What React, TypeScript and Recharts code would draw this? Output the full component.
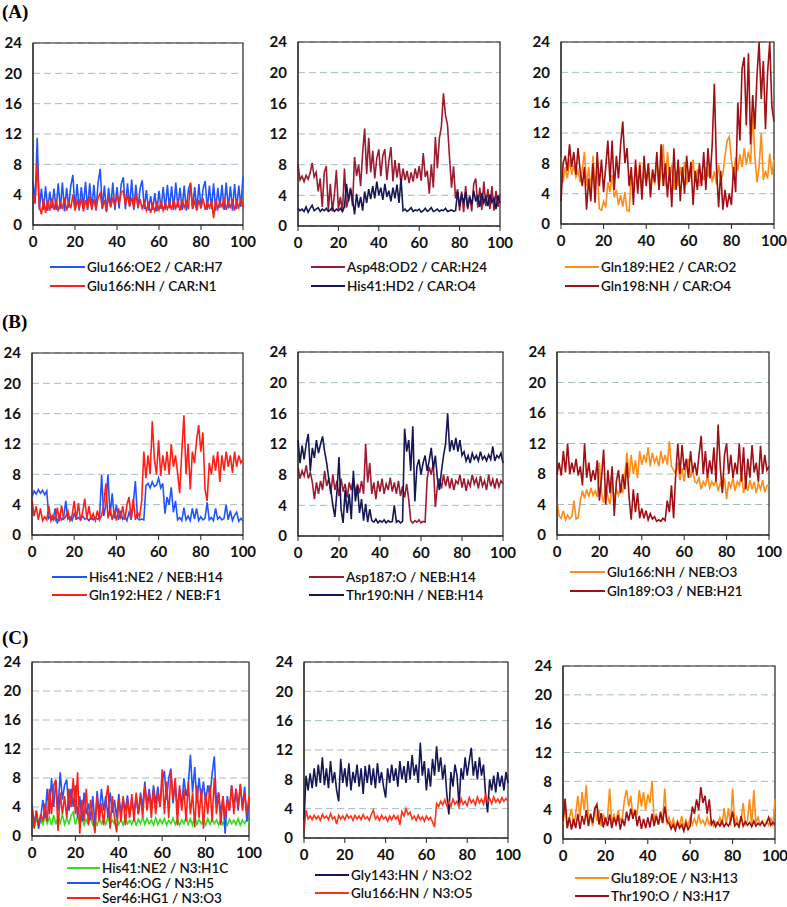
import { LineChart, Line, XAxis, YAxis, CartesianGrid, ReferenceArea } from 'recharts';

// simulation time (ns), one sample per ns
const timeNs = Array.from({ length: 101 }, (_, i) => i);

// (A) CAR
const glu166Oe2Car = [5.8, 3.0, 11.5, 2.0, 4.8, 2.0, 5.1, 1.9, 4.4, 2.2, 4.8, 2.0, 5.5, 2.1, 5.6, 1.8, 4.9, 2.3, 5.2, 6.6, 2.0, 5.4, 1.9, 5.0, 2.4, 5.7, 2.0, 5.5, 2.2, 5.3, 1.9, 5.6, 7.4, 2.1, 5.2, 1.7, 4.9, 2.3, 5.6, 2.0, 5.0, 2.2, 5.4, 6.3, 2.1, 5.5, 2.4, 6.0, 2.0, 5.3, 2.2, 4.8, 5.9, 2.1, 4.6, 1.9, 3.8, 2.0, 4.2, 1.8, 4.5, 2.1, 5.0, 2.0, 5.3, 2.2, 5.1, 2.0, 5.6, 2.3, 4.9, 2.0, 5.2, 1.9, 4.7, 5.5, 2.1, 5.0, 2.0, 5.4, 2.2, 4.8, 5.8, 2.0, 5.2, 2.1, 5.5, 1.9, 4.9, 2.3, 5.3, 2.0, 5.6, 2.2, 5.1, 1.9, 5.4, 2.1, 5.2, 2.4, 6.4];
const glu166NhCar = [4.2, 2.8, 8.2, 2.5, 1.4, 3.4, 1.6, 3.2, 1.9, 3.5, 2.0, 3.3, 1.8, 3.1, 2.1, 3.6, 1.9, 3.0, 2.2, 4.0, 1.9, 3.2, 2.3, 3.5, 1.8, 3.3, 2.2, 3.8, 2.0, 3.4, 2.1, 3.6, 4.2, 2.2, 3.3, 1.9, 3.7, 2.4, 3.5, 2.6, 4.0, 2.8, 4.3, 4.5, 2.7, 3.9, 2.5, 3.6, 2.3, 4.1, 2.4, 3.4, 2.2, 3.0, 1.9, 2.8, 1.6, 2.7, 1.8, 2.9, 2.0, 3.2, 1.9, 2.8, 2.1, 3.0, 2.0, 3.3, 2.2, 3.1, 1.9, 3.4, 2.3, 3.0, 2.1, 5.6, 2.2, 3.1, 1.9, 3.3, 2.2, 3.5, 2.0, 3.0, 2.3, 3.2, 0.9, 3.4, 2.1, 3.0, 2.4, 3.6, 2.0, 3.2, 2.2, 3.4, 1.9, 3.1, 2.3, 3.5, 2.4];
const asp48Od2Car = [8.0, 6.0, 6.5, 5.8, 6.6, 6.1, 6.9, 8.2, 6.4, 7.0, 4.5, 6.2, 2.5, 7.0, 7.8, 2.0, 5.5, 1.9, 4.0, 7.3, 2.2, 3.8, 1.8, 7.5, 2.4, 3.5, 5.0, 2.6, 9.0, 6.5, 8.0, 5.2, 9.5, 12.7, 6.8, 11.5, 7.0, 9.8, 6.2, 8.8, 10.0, 6.5, 9.2, 10.0, 6.0, 8.5, 10.3, 5.8, 8.6, 6.3, 8.2, 5.5, 7.5, 6.0, 7.2, 5.6, 7.0, 5.8, 7.5, 6.2, 7.8, 5.9, 9.5, 6.4, 7.2, 4.2, 8.0, 5.0, 11.6, 7.5, 11.5, 13.0, 17.3, 14.5, 13.2, 9.0, 5.0, 7.8, 3.6, 4.8, 2.0, 4.5, 1.8, 5.2, 2.2, 4.0, 1.9, 5.5, 6.2, 2.4, 5.0, 2.1, 5.8, 2.6, 4.8, 2.2, 5.2, 2.0, 4.6, 2.5, 4.2];
const his41Hd2Car = [2.3, 2.0, 2.2, 1.9, 2.5, 1.8, 2.3, 2.7, 2.0, 2.2, 2.4, 1.9, 2.2, 2.0, 2.3, 1.9, 2.1, 2.4, 1.9, 2.2, 2.0, 2.3, 1.9, 2.5, 5.5, 3.2, 4.8, 3.5, 1.5, 4.2, 2.4, 3.8, 2.0, 4.5, 3.0, 4.8, 3.5, 5.2, 3.6, 5.8, 4.0, 5.0, 3.4, 5.5, 3.8, 4.6, 3.2, 5.0, 3.6, 5.4, 3.0, 6.2, 2.0, 2.2, 1.9, 2.1, 2.4, 1.9, 2.1, 2.0, 2.2, 1.8, 2.0, 2.3, 1.9, 2.1, 2.4, 1.9, 2.0, 2.2, 1.9, 2.1, 2.0, 2.3, 1.9, 2.0, 2.1, 1.9, 2.0, 4.5, 2.6, 4.2, 3.0, 4.4, 2.4, 3.8, 2.8, 4.6, 3.2, 4.0, 2.5, 4.3, 3.0, 3.8, 2.6, 4.1, 3.1, 3.6, 2.2, 4.0, 3.0];
const gln189He2Car = [8.8, 5.5, 7.5, 6.0, 8.5, 6.5, 7.8, 6.2, 7.0, 5.5, 7.2, 9.5, 5.0, 7.5, 4.5, 9.0, 5.2, 7.0, 2.0, 1.8, 3.0, 2.2, 5.5, 4.2, 6.5, 3.5, 4.5, 2.5, 3.8, 2.3, 4.2, 1.8, 1.7, 6.5, 4.5, 7.5, 5.0, 8.2, 4.2, 6.8, 5.5, 8.0, 4.8, 7.0, 5.2, 8.5, 4.5, 7.2, 10.5, 5.0, 9.5, 6.0, 7.8, 4.5, 7.0, 5.0, 7.5, 5.5, 8.2, 5.2, 7.0, 6.0, 8.5, 5.5, 7.2, 5.0, 6.8, 5.8, 7.5, 6.2, 8.0, 5.5, 7.0, 5.2, 7.8, 5.8, 6.5, 9.0, 11.0, 11.5, 8.5, 6.5, 8.8, 7.0, 9.2, 7.5, 10.0, 7.8, 9.5, 8.0, 14.5, 9.0, 5.5, 7.5, 12.0, 5.8, 7.0, 6.0, 9.3, 6.5, 8.5];
const gln198NhCar = [3.0, 8.0, 9.0, 7.0, 10.5, 7.5, 9.5, 6.5, 10.0, 7.0, 5.0, 7.5, 1.9, 6.0, 3.0, 8.0, 2.8, 9.5, 5.0, 8.5, 4.2, 7.5, 11.0, 5.5, 11.0, 4.5, 9.0, 6.0, 10.5, 13.5, 8.0, 10.0, 5.0, 7.5, 2.5, 8.5, 4.0, 7.8, 3.2, 9.0, 5.0, 8.0, 3.5, 7.2, 5.5, 9.5, 4.5, 10.5, 5.0, 8.0, 3.5, 7.5, 2.2, 10.0, 4.5, 8.5, 3.0, 7.5, 4.0, 9.0, 5.5, 8.2, 2.5, 7.0, 4.5, 8.0, 5.0, 9.5, 4.5, 10.0, 6.0, 10.5, 18.5, 7.5, 2.2, 7.0, 1.9, 4.5, 2.2, 4.0, 2.5, 7.5, 4.2, 16.0, 11.0, 20.5, 22.0, 13.0, 22.5, 10.5, 17.0, 12.5, 19.5, 24.0, 16.5, 21.5, 12.5, 20.0, 24.0, 15.5, 13.5];

// (B) NEB
const his41Ne2Neb = [5.0, 5.8, 5.4, 6.0, 5.5, 5.9, 5.3, 5.8, 2.2, 2.5, 2.0, 3.5, 1.5, 2.6, 2.0, 2.3, 4.5, 2.1, 2.4, 1.9, 2.8, 2.1, 2.3, 2.0, 2.5, 2.1, 2.2, 1.9, 2.4, 2.0, 2.3, 2.1, 2.2, 7.9, 2.5, 4.0, 8.0, 2.5, 5.5, 2.2, 4.0, 2.0, 3.2, 2.1, 2.5, 1.9, 3.0, 2.0, 4.2, 7.1, 2.2, 2.0, 2.1, 2.0, 6.5, 6.8, 6.2, 7.0, 6.4, 6.6, 7.5, 6.2, 6.8, 2.8, 5.0, 4.0, 6.3, 3.0, 4.5, 2.0, 2.3, 1.9, 3.6, 2.0, 2.5, 1.9, 3.5, 2.1, 3.5, 1.9, 2.4, 2.0, 2.2, 4.3, 2.0, 2.3, 1.9, 3.5, 2.1, 2.4, 2.0, 2.2, 4.0, 2.0, 3.2, 1.9, 2.6, 3.0, 1.8, 2.2, 1.8];
const gln192He2Neb = [4.6, 2.5, 3.8, 2.0, 3.5, 1.9, 2.4, 2.0, 3.8, 1.9, 2.6, 2.0, 3.6, 1.8, 3.9, 2.1, 2.4, 3.2, 1.9, 2.6, 4.5, 2.0, 4.2, 1.9, 3.0, 4.8, 2.1, 3.8, 2.0, 2.8, 1.9, 3.2, 2.0, 2.6, 4.0, 6.8, 2.2, 3.5, 2.0, 3.2, 1.9, 3.5, 2.1, 3.8, 2.0, 4.0, 5.0, 2.2, 4.8, 2.0, 3.0, 2.4, 4.5, 11.0, 7.5, 10.5, 8.0, 15.0, 10.0, 8.0, 12.5, 7.8, 10.5, 8.5, 11.0, 8.0, 12.0, 9.0, 10.5, 8.2, 5.5, 11.0, 15.8, 8.0, 12.0, 6.0, 11.0, 9.5, 12.5, 14.5, 11.0, 13.5, 6.0, 4.5, 9.5, 8.0, 10.5, 8.5, 11.0, 7.0, 10.5, 8.5, 11.0, 9.0, 10.5, 8.2, 11.0, 9.0, 10.5, 9.5, 10.0];
const asp187ONeb = [9.0, 7.5, 8.5, 7.8, 9.2, 7.5, 8.3, 7.0, 4.8, 7.0, 5.5, 7.2, 6.0, 8.5, 6.5, 7.5, 5.5, 8.0, 6.0, 7.2, 5.2, 7.5, 5.8, 6.8, 5.0, 7.0, 6.0, 7.5, 5.5, 6.8, 5.6, 7.2, 5.5, 12.0, 7.0, 9.5, 5.5, 7.0, 4.8, 7.2, 5.8, 7.5, 5.5, 6.8, 6.0, 7.6, 5.8, 7.0, 5.5, 7.2, 5.2, 6.5, 5.0, 6.8, 4.8, 2.0, 1.7, 2.0, 1.8, 2.1, 1.7, 1.9, 1.8, 7.5, 9.0, 8.0, 9.5, 3.8, 6.5, 7.5, 6.2, 8.0, 6.5, 7.8, 6.2, 7.5, 6.0, 7.2, 6.8, 8.0, 6.3, 7.5, 5.9, 7.2, 6.5, 8.0, 6.8, 7.5, 6.2, 7.8, 6.5, 7.2, 6.0, 8.0, 6.5, 7.4, 6.2, 7.5, 6.4, 7.2, 6.8];
const thr190NhNeb = [12.5, 9.5, 11.8, 10.0, 12.0, 13.3, 8.5, 11.5, 10.2, 12.5, 10.8, 12.0, 13.0, 11.0, 9.5, 7.5, 6.0, 4.0, 2.5, 5.8, 10.3, 3.5, 1.7, 6.0, 3.0, 5.5, 2.2, 8.5, 4.5, 6.5, 3.0, 4.8, 2.0, 4.2, 1.8, 3.5, 2.0, 1.8, 2.2, 1.7, 2.0, 1.8, 2.1, 1.7, 2.0, 1.8, 1.9, 4.0, 1.8, 2.0, 1.7, 1.9, 14.0, 11.0, 12.5, 8.5, 14.3, 4.5, 9.0, 10.0, 8.0, 9.5, 10.5, 8.5, 9.8, 11.5, 8.8, 10.5, 7.5, 6.0, 8.5, 10.5, 12.0, 16.0, 11.0, 12.5, 11.2, 12.8, 11.0, 12.5, 10.5, 11.0, 9.8, 10.5, 9.5, 10.8, 10.0, 10.5, 9.8, 11.0, 10.0, 10.4, 9.8, 10.6, 10.0, 11.7, 9.8, 10.5, 10.2, 10.8, 9.5];
const glu166NhNeb = [4.5, 2.5, 2.2, 3.2, 2.0, 2.6, 2.1, 2.4, 4.5, 2.1, 2.3, 4.5, 5.8, 4.8, 6.0, 5.0, 6.2, 5.2, 5.8, 5.0, 9.5, 5.5, 4.2, 6.5, 5.0, 4.0, 7.0, 4.5, 6.0, 5.2, 6.5, 5.5, 8.0, 10.8, 7.5, 10.5, 8.0, 9.8, 7.5, 11.0, 9.2, 10.5, 9.5, 11.5, 9.0, 10.8, 9.5, 10.2, 9.0, 11.0, 9.4, 10.5, 9.2, 12.3, 9.0, 8.5, 8.0, 9.5, 7.2, 8.8, 7.0, 9.2, 10.0, 7.5, 8.5, 7.0, 6.8, 7.5, 6.0, 7.0, 6.5, 7.8, 6.2, 7.0, 6.5, 7.2, 5.8, 6.8, 6.0, 7.5, 4.7, 7.0, 6.2, 7.5, 5.8, 7.0, 6.5, 8.0, 5.5, 6.8, 5.8, 7.2, 6.0, 7.0, 5.5, 6.8, 6.0, 7.2, 5.6, 6.5, 6.5];
const gln189O3Neb = [8.0, 9.5, 7.8, 11.0, 8.2, 12.0, 8.0, 9.5, 8.2, 10.0, 7.8, 9.0, 6.5, 12.0, 7.5, 9.5, 7.0, 8.5, 7.2, 9.8, 4.5, 7.5, 11.2, 4.0, 8.5, 5.5, 9.0, 2.5, 7.0, 8.5, 5.5, 8.0, 6.0, 9.5, 5.0, 2.0, 6.0, 3.0, 5.5, 2.2, 3.5, 2.2, 3.2, 2.0, 2.8, 2.1, 2.4, 1.8, 2.0, 1.8, 2.2, 1.9, 4.5, 3.0, 6.5, 2.2, 8.0, 12.0, 8.0, 11.8, 8.5, 10.0, 7.5, 11.0, 8.2, 9.5, 7.8, 10.5, 13.0, 8.0, 11.0, 7.5, 9.8, 8.0, 11.5, 7.0, 14.5, 9.0, 5.5, 10.5, 12.0, 8.0, 10.5, 7.5, 9.5, 8.0, 12.0, 7.0, 11.5, 6.0, 10.0, 7.5, 11.8, 8.2, 9.5, 7.0, 11.7, 8.0, 10.5, 8.5, 9.0];

// (C) N3
const his41Ne2N3 = [3.0, 1.2, 2.5, 1.4, 2.2, 1.6, 2.8, 1.7, 2.6, 1.5, 2.9, 1.6, 2.7, 1.8, 3.0, 1.6, 2.5, 1.7, 2.8, 3.3, 1.6, 2.6, 1.7, 2.4, 1.5, 2.3, 1.7, 2.5, 1.6, 2.2, 1.5, 2.4, 1.7, 2.3, 1.6, 2.6, 1.5, 2.2, 1.7, 2.4, 1.6, 2.3, 1.5, 2.5, 1.7, 2.2, 1.6, 2.4, 1.5, 2.3, 1.7, 2.6, 1.6, 2.4, 1.7, 2.2, 1.5, 2.5, 1.6, 2.3, 1.7, 2.4, 1.5, 2.2, 1.7, 2.5, 1.6, 2.3, 1.5, 2.2, 1.7, 2.6, 1.6, 2.4, 1.5, 2.7, 1.6, 2.3, 1.7, 2.2, 1.5, 2.4, 1.6, 2.3, 1.7, 2.2, 1.5, 2.4, 1.6, 2.2, 1.5, 2.3, 1.7, 2.2, 1.6, 2.4, 1.5, 2.2, 1.7, 2.3, 1.8];
const ser46OgN3 = [4.5, 1.5, 3.5, 1.0, 2.5, 5.0, 2.5, 6.5, 3.0, 8.0, 4.0, 7.5, 3.5, 8.8, 5.0, 7.0, 7.8, 3.5, 6.5, 4.0, 7.0, 2.5, 5.5, 2.0, 6.0, 3.0, 4.5, 2.2, 5.5, 1.5, 6.2, 3.0, 6.5, 3.5, 5.5, 2.5, 6.0, 3.2, 5.0, 2.5, 5.8, 3.0, 5.2, 3.5, 5.6, 2.8, 5.0, 3.2, 5.5, 3.0, 6.0, 4.0, 7.5, 4.2, 6.5, 3.8, 7.0, 4.5, 6.8, 4.0, 7.5, 9.0, 5.0, 8.0, 9.3, 4.5, 7.5, 3.5, 6.5, 4.0, 8.0, 5.5, 7.0, 11.2, 6.0, 9.5, 4.5, 8.0, 5.0, 7.5, 4.5, 7.0, 5.5, 8.5, 11.0, 4.5, 6.0, 3.0, 5.5, 0.3, 5.5, 3.5, 7.0, 4.0, 6.5, 3.5, 7.0, 4.0, 6.8, 2.0, 4.5];
const ser46Hg1N3 = [4.0, 1.0, 3.5, 1.5, 3.0, 2.0, 4.5, 2.0, 6.5, 3.0, 7.0, 7.8, 0.7, 6.0, 3.0, 5.5, 2.5, 6.5, 4.0, 8.0, 3.0, 8.8, 0.3, 5.0, 2.0, 6.5, 1.5, 5.0, 2.5, 0.4, 5.5, 2.0, 4.5, 1.5, 5.0, 7.0, 1.0, 5.5, 2.5, 0.5, 5.0, 2.0, 5.5, 1.5, 5.0, 2.5, 5.8, 2.0, 6.0, 3.0, 5.5, 2.5, 7.0, 3.5, 6.0, 2.5, 6.5, 3.0, 6.0, 4.0, 9.2, 3.0, 7.5, 2.5, 9.0, 5.0, 8.0, 1.5, 7.0, 3.5, 6.5, 2.0, 7.5, 3.0, 6.0, 1.2, 7.0, 2.5, 6.5, 1.0, 6.0, 3.0, 7.0, 2.0, 8.0, 3.0, 6.0, 1.5, 5.5, 2.5, 5.0, 3.5, 7.0, 3.0, 6.5, 4.0, 7.2, 3.5, 6.0, 3.0, 5.5];
const gly143HnN3 = [2.5, 8.5, 6.5, 8.8, 6.8, 9.5, 7.0, 10.0, 7.5, 11.0, 7.2, 9.5, 6.8, 10.5, 7.5, 9.0, 6.5, 5.0, 10.8, 7.5, 9.5, 7.0, 10.2, 6.5, 9.0, 7.5, 10.0, 7.0, 9.5, 6.0, 9.8, 7.5, 10.0, 7.2, 9.5, 6.8, 10.2, 7.5, 9.0, 7.0, 5.5, 9.5, 7.5, 10.0, 7.8, 9.5, 7.0, 10.5, 8.0, 9.8, 7.5, 10.5, 8.0, 11.3, 8.5, 10.0, 7.5, 13.0, 8.5, 10.5, 6.5, 9.5, 7.0, 10.8, 8.5, 12.5, 9.0, 11.0, 8.0, 10.0, 6.0, 3.2, 9.0, 7.0, 10.0, 8.5, 4.5, 9.5, 8.0, 11.0, 8.5, 10.5, 12.3, 8.5, 10.5, 8.0, 11.0, 8.5, 10.0, 6.0, 3.5, 8.0, 6.5, 8.5, 6.2, 9.0, 7.0, 8.5, 6.5, 9.0, 7.5];
const glu166HnN3 = [1.0, 3.8, 2.6, 3.0, 2.5, 3.1, 2.6, 3.0, 2.4, 3.2, 2.7, 3.0, 2.5, 3.3, 2.6, 2.9, 1.9, 3.1, 2.6, 3.0, 2.5, 3.2, 2.7, 3.0, 2.4, 3.1, 2.6, 3.0, 2.5, 3.2, 2.6, 2.9, 2.4, 3.2, 3.8, 2.6, 3.0, 2.4, 3.1, 2.6, 2.9, 2.3, 3.0, 2.5, 3.1, 2.6, 3.0, 1.8, 3.6, 3.0, 4.0, 3.2, 3.5, 2.6, 3.0, 2.4, 3.1, 2.5, 2.9, 2.3, 3.0, 2.5, 2.8, 2.2, 1.5, 4.7, 4.3, 5.0, 4.5, 5.2, 4.4, 5.0, 4.3, 5.3, 4.6, 5.0, 4.2, 5.4, 4.6, 5.0, 4.4, 5.5, 4.8, 5.2, 4.5, 5.6, 4.8, 5.3, 4.6, 6.0, 4.9, 5.4, 4.7, 5.6, 4.9, 5.3, 4.8, 5.5, 5.0, 5.4, 5.0];
const glu189OeN3 = [2.0, 5.0, 1.5, 3.0, 4.2, 1.8, 3.5, 6.0, 3.0, 6.5, 4.0, 7.5, 2.2, 3.5, 1.8, 4.5, 2.5, 4.0, 1.8, 3.5, 2.2, 3.0, 7.0, 2.0, 3.5, 2.2, 4.0, 2.5, 3.0, 5.5, 6.8, 4.5, 6.0, 3.0, 4.0, 3.5, 6.8, 4.5, 6.5, 4.0, 6.2, 5.0, 8.0, 2.5, 3.5, 2.0, 3.2, 2.2, 7.0, 2.0, 3.0, 1.8, 2.8, 1.6, 2.5, 1.8, 3.2, 1.5, 2.6, 1.8, 3.0, 2.0, 2.8, 2.0, 3.4, 2.2, 2.6, 1.9, 3.0, 2.0, 2.6, 1.8, 2.4, 2.0, 3.0, 1.9, 4.3, 2.0, 4.3, 1.8, 7.0, 2.0, 3.0, 1.8, 2.6, 5.0, 2.0, 2.5, 5.5, 1.8, 6.8, 2.2, 3.0, 2.0, 2.5, 1.8, 2.4, 1.9, 3.0, 1.8, 5.5];
const thr190ON3 = [2.5, 5.6, 1.5, 3.0, 1.3, 2.8, 1.5, 3.5, 1.4, 3.2, 2.0, 4.0, 1.8, 3.5, 2.2, 4.2, 4.8, 2.0, 3.6, 1.6, 3.0, 1.8, 3.4, 1.5, 3.0, 2.0, 3.3, 1.3, 2.8, 1.8, 3.8, 2.5, 4.2, 2.8, 4.0, 1.8, 3.2, 1.4, 2.8, 1.5, 3.0, 1.6, 3.5, 1.8, 3.2, 2.0, 3.8, 2.2, 4.5, 2.5, 2.2, 1.4, 2.0, 1.2, 2.3, 1.5, 2.0, 1.1, 2.2, 1.3, 1.8, 4.5, 3.5, 5.5, 4.0, 7.2, 5.0, 6.0, 3.5, 5.5, 2.0, 2.5, 1.7, 2.3, 1.8, 2.5, 1.7, 2.2, 1.8, 2.4, 3.8, 1.8, 2.2, 1.7, 3.2, 1.8, 2.4, 1.9, 2.3, 1.7, 2.5, 1.8, 2.2, 1.9, 2.4, 1.8, 2.2, 3.0, 1.9, 2.3, 2.0];

const yTicks = [0, 4, 8, 12, 16, 20, 24];
const xTicks = [0, 20, 40, 60, 80, 100];

interface Series {
  values: number[];
  name: string;
  color: string;
}

interface PanelProps {
  plot: [number, number, number, number]; // left, top, right, bottom of plot area
  series: Series[];
  legend: { lineX: number; textX: number; ys: number[] };
}

const tickStyle = { fontFamily: 'Lato, sans-serif', fontSize: 15, fontWeight: 700, fill: '#111' };

function Panel({ plot, series, legend }: PanelProps) {
  const [l, t, r, b] = plot;
  const data = timeNs.map((x, i) => {
    const row: Record<string, number> = { t: x };
    series.forEach((s, k) => { row['s' + k] = s.values[i]; });
    return row;
  });
  return (
    <>
      <div style={{ position: 'absolute', left: l - 40, top: t - 10 }}>
        <LineChart width={40 + (r - l) + 24} height={10 + (b - t) + 32} data={data}
          margin={{ top: 10, right: 24, bottom: 0, left: 0 }}>
          <CartesianGrid vertical={false} stroke="#a3bcbf" strokeDasharray="7 4" />
          <XAxis dataKey="t" type="number" domain={[0, 100]} ticks={xTicks} height={32}
            axisLine={{ stroke: '#222' }} tickLine={{ stroke: '#222' }} tickSize={5} tickMargin={6} tick={tickStyle} />
          <YAxis type="number" domain={[0, 24]} ticks={yTicks} width={40}
            axisLine={{ stroke: '#222' }} tickLine={false} tickMargin={5} tick={tickStyle} />
          <ReferenceArea x1={0} x2={100} y1={0} y2={24} fill="none" stroke="#222" strokeWidth={1.2} />
          {series.map((s, k) => (
            <Line key={k} dataKey={'s' + k} type="linear" stroke={s.color} strokeWidth={1.6}
              dot={false} isAnimationActive={false} />
          ))}
        </LineChart>
      </div>
      {series.map((s, k) => (
        <div key={'lg' + k} style={{ position: 'absolute', left: legend.lineX, top: legend.ys[k] - 9, height: 18,
          display: 'flex', alignItems: 'center', whiteSpace: 'nowrap' }}>
          <div style={{ width: legend.textX - legend.lineX - 2, height: 2, background: s.color, marginRight: 2 }} />
          <span style={{ fontFamily: 'Lato, sans-serif', fontSize: 13.5, fontWeight: 600, color: '#111' }}>{s.name}</span>
        </div>
      ))}
    </>
  );
}

const BLUE = '#1f55ff';
const RED = '#ff2015';
const MAROON = '#9b1c2e';
const NAVY = '#141657';
const ORANGE = '#ff8c14';
const DARKRED = '#a00f12';
const GREEN = '#33dd22';

const labelStyle: React.CSSProperties = {
  position: 'absolute', left: 2, fontFamily: '"Liberation Serif", "Times New Roman", serif',
  fontWeight: 700, fontSize: 19, lineHeight: '20px'
};

export default function App() {
  return (
    <div style={{ position: 'absolute', left: 0, top: 0, width: 787, height: 907, background: '#fff', overflow: 'hidden' }}>
      <div style={{ ...labelStyle, top: 2 }}>(A)</div>
      <div style={{ ...labelStyle, top: 312 }}>(B)</div>
      <div style={{ ...labelStyle, top: 628 }}>(C)</div>

      <Panel plot={[33, 43, 243, 225]} legend={{ lineX: 50, textX: 87, ys: [267, 286] }} series={[
        { values: glu166Oe2Car, name: 'Glu166:OE2 / CAR:H7', color: BLUE },
        { values: glu166NhCar, name: 'Glu166:NH / CAR:N1', color: RED },
      ]} />
      <Panel plot={[298, 42, 500, 226]} legend={{ lineX: 311, textX: 347, ys: [267, 286] }} series={[
        { values: asp48Od2Car, name: 'Asp48:OD2 / CAR:H24', color: MAROON },
        { values: his41Hd2Car, name: 'His41:HD2 / CAR:O4', color: NAVY },
      ]} />
      <Panel plot={[561, 42, 774, 224]} legend={{ lineX: 565, textX: 601, ys: [267, 286] }} series={[
        { values: gln189He2Car, name: 'Gln189:HE2 / CAR:O2', color: ORANGE },
        { values: gln198NhCar, name: 'Gln198:NH / CAR:O4', color: DARKRED },
      ]} />

      <Panel plot={[32, 353, 243, 535]} legend={{ lineX: 52, textX: 89, ys: [577, 595] }} series={[
        { values: his41Ne2Neb, name: 'His41:NE2 / NEB:H14', color: BLUE },
        { values: gln192He2Neb, name: 'Gln192:HE2 / NEB:F1', color: RED },
      ]} />
      <Panel plot={[298, 352, 503, 536]} legend={{ lineX: 309, textX: 346, ys: [577, 595] }} series={[
        { values: asp187ONeb, name: 'Asp187:O / NEB:H14', color: MAROON },
        { values: thr190NhNeb, name: 'Thr190:NH / NEB:H14', color: NAVY },
      ]} />
      <Panel plot={[557, 352, 769, 535]} legend={{ lineX: 570, textX: 607, ys: [572, 591] }} series={[
        { values: glu166NhNeb, name: 'Glu166:NH / NEB:O3', color: ORANGE },
        { values: gln189O3Neb, name: 'Gln189:O3 / NEB:H21', color: DARKRED },
      ]} />

      <Panel plot={[32, 662, 249, 836]} legend={{ lineX: 67, textX: 102, ys: [868, 883, 898] }} series={[
        { values: his41Ne2N3, name: 'His41:NE2 / N3:H1C', color: GREEN },
        { values: ser46OgN3, name: 'Ser46:OG / N3:H5', color: BLUE },
        { values: ser46Hg1N3, name: 'Ser46:HG1 / N3:O3', color: RED },
      ]} />
      <Panel plot={[304, 662, 508, 838]} legend={{ lineX: 315, textX: 351, ys: [875, 893] }} series={[
        { values: gly143HnN3, name: 'Gly143:HN / N3:O2', color: NAVY },
        { values: glu166HnN3, name: 'Glu166:HN / N3:O5', color: '#ff3318' },
      ]} />
      <Panel plot={[563, 666, 775, 839]} legend={{ lineX: 575, textX: 611, ys: [878, 896] }} series={[
        { values: glu189OeN3, name: 'Glu189:OE / N3:H13', color: ORANGE },
        { values: thr190ON3, name: 'Thr190:O / N3:H17', color: DARKRED },
      ]} />
    </div>
  );
}
